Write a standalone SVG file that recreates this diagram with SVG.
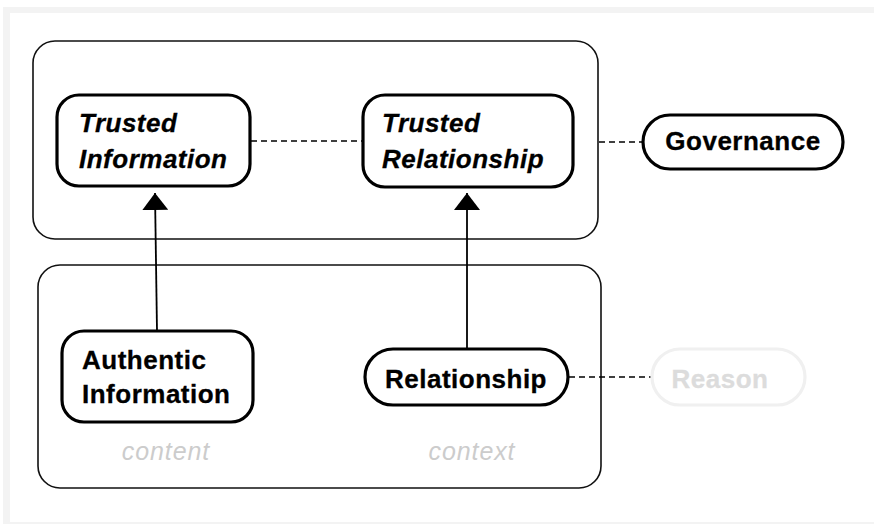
<svg xmlns="http://www.w3.org/2000/svg" width="874" height="524" viewBox="0 0 874 524">
<defs>
<style>
.frame{fill:#f3f3f3}
.group{fill:none;stroke:#111;stroke-width:1.6}
.node{fill:#fff;stroke:#000;stroke-width:3.2}
.ghost{fill:#fff;stroke:#f0f0f0;stroke-width:3.2}
.t{font-family:"Liberation Sans",Arial,Helvetica,sans-serif;font-weight:bold;font-size:26px;letter-spacing:0.5px;fill:#000;stroke:#000;stroke-width:0.3}
.it{font-style:italic}
.gt{fill:#dcdcdc;stroke:#dcdcdc}
.lbl{font-family:"Liberation Sans",Arial,Helvetica,sans-serif;font-style:italic;font-size:25px;letter-spacing:0.9px;fill:#cccccc}
.dash{stroke:#000;stroke-width:1.6;stroke-dasharray:6,4;fill:none}
.arr{stroke:#000;stroke-width:1.8;fill:none;marker-end:url(#ah)}
</style>
<marker id="ah" viewBox="0 0 10 10" refX="10" refY="5" markerUnits="userSpaceOnUse" markerWidth="17" markerHeight="26" orient="auto" preserveAspectRatio="none">
<path d="M0,0 L10,5 L0,10 z" fill="#000"/>
</marker>
</defs>
<rect class="frame" x="3" y="7" width="871" height="517"/>
<rect x="10" y="13" width="864" height="509" fill="#fff"/>

<g id="group-top"><rect class="group" x="33" y="41" width="565" height="198" rx="22"/></g>
<g id="group-bottom"><rect class="group" x="38" y="265" width="563" height="223" rx="22"/></g>

<g id="connectors">
<line class="dash" x1="251" y1="141" x2="363" y2="141"/>
<line class="dash" x1="599" y1="142" x2="643" y2="142"/>
<line class="dash" x1="569" y1="377" x2="652" y2="377"/>
<line class="arr" x1="157" y1="331" x2="155" y2="193"/>
<line class="arr" x1="467" y1="349" x2="467" y2="193"/>
</g>

<g id="trusted-information">
<rect class="node" x="57" y="95" width="193" height="91" rx="22"/>
<text class="t it" x="79" y="132">Trusted</text>
<text class="t it" x="79" y="168">Information</text>
</g>
<g id="trusted-relationship">
<rect class="node" x="363" y="95" width="210" height="92" rx="22"/>
<text class="t it" x="382" y="132">Trusted</text>
<text class="t it" x="382" y="168">Relationship</text>
</g>
<g id="governance">
<rect class="node" x="643" y="115" width="200" height="54" rx="27"/>
<text class="t" x="743" y="150" text-anchor="middle">Governance</text>
</g>
<g id="authentic-information">
<rect class="node" x="62" y="331" width="191" height="91" rx="22"/>
<text class="t" x="82" y="369">Authentic</text>
<text class="t" x="82" y="403">Information</text>
</g>
<g id="relationship">
<rect class="node" x="365" y="349" width="203" height="56" rx="28"/>
<text class="t" x="466" y="388" text-anchor="middle">Relationship</text>
</g>
<g id="reason">
<rect class="ghost" x="652" y="349" width="153" height="56" rx="28"/>
<text class="t gt" x="720" y="388" text-anchor="middle">Reason</text>
</g>
<text class="lbl" x="166" y="460" text-anchor="middle">content</text>
<text class="lbl" x="472" y="460" text-anchor="middle">context</text>
</svg>
